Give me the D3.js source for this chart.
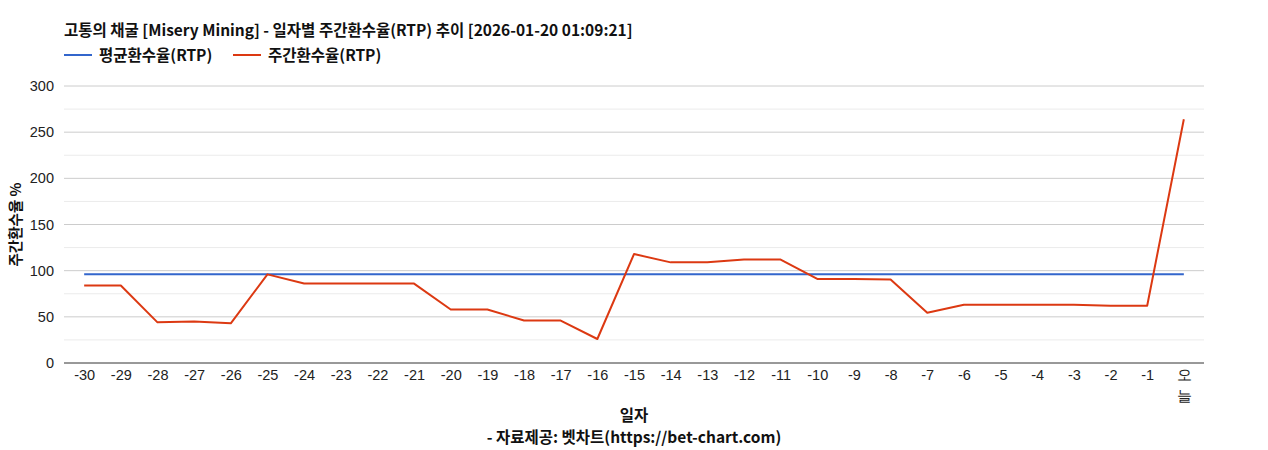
<!DOCTYPE html>
<html>
<head>
<meta charset="utf-8">
<script src="https://cdn.jsdelivr.net/npm/d3@7"></script>
<style>
  body { margin: 0; background: #fff; }
  text { font-family: "Liberation Sans", Arial, sans-serif; }
  .kr { font-family: "Noto Sans CJK KR", "Noto Sans", sans-serif; }
</style>
</head>
<body>
<div id="chart"></div>
<script>
// Data
const days = ["-30","-29","-28","-27","-26","-25","-24","-23","-22","-21","-20","-19","-18","-17","-16",
  "-15","-14","-13","-12","-11","-10","-9","-8","-7","-6","-5","-4","-3","-2","-1","오늘"];
const avgRtp = [96,96,96,96,96,96,96,96,96,96,96,96,96,96,96,96,96,96,96,96,96,96,96,96,96,96,96,96,96,96,96];
const weeklyRtp = [84,84,44,45,43,96,86,86,86,86,58,58,46,46,26,118,109,109,112,112,91,91,90.5,54.5,63,63,63,63,62,62,264];
const yTicks = [0,50,100,150,200,250,300];

const W = 1268, H = 450;
const margin = { top: 86, right: 64, bottom: 87, left: 64 };
const BLUE = "#3366cc", RED = "#dc3912";
const BOLD_SIZE = 15.5;

const svg = d3.select("#chart").append("svg")
  .attr("width", W).attr("height", H);

const x = d3.scalePoint()
  .domain(days)
  .range([margin.left, W - margin.right])
  .padding(0.55);

const y = d3.scaleLinear()
  .domain([0, 300])
  .range([H - margin.bottom, margin.top]);

// Gridlines (minor then major)
svg.append("g").selectAll("line")
  .data(d3.range(25, 300, 50))
  .enter().append("line")
  .attr("x1", margin.left).attr("x2", W - margin.right)
  .attr("y1", d => y(d)).attr("y2", d => y(d))
  .attr("stroke", "#ebebeb").attr("stroke-width", 1);

svg.append("g").selectAll("line")
  .data(yTicks.filter(d => d > 0))
  .enter().append("line")
  .attr("x1", margin.left).attr("x2", W - margin.right)
  .attr("y1", d => y(d)).attr("y2", d => y(d))
  .attr("stroke", "#cccccc").attr("stroke-width", 1);

// Y axis labels
const yAxis = svg.append("g")
  .attr("transform", "translate(" + margin.left + ",0)")
  .call(d3.axisLeft(y).tickValues(yTicks).tickSize(0).tickPadding(10));
yAxis.select(".domain").remove();
yAxis.selectAll("text").attr("font-size", 14.5).attr("fill", "#222")
  .style("font-family", "'Liberation Sans', Arial, sans-serif");

// X axis
const xAxis = svg.append("g")
  .attr("transform", "translate(0," + y(0) + ")")
  .call(d3.axisBottom(x).tickSize(0).tickPadding(7));
xAxis.select(".domain").attr("stroke", "#333").attr("d", "M" + margin.left + ",0H" + (W - margin.right));
xAxis.selectAll("text").attr("font-size", 14.5).attr("fill", "#222")
  .style("font-family", "'Liberation Sans', Arial, sans-serif")
  .each(function(d) {
    if (d === "오늘") {
      const t = d3.select(this).text(null).attr("class", "kr");
      t.append("tspan").attr("x", 0).attr("dy", "0.71em").text("오");
      t.append("tspan").attr("x", 0).attr("dy", "1.45em").text("늘");
      t.attr("dy", null);
    }
  });

// Lines
const line = d3.line()
  .x((d, i) => x(days[i]))
  .y(d => y(d));

svg.append("path").datum(avgRtp)
  .attr("fill", "none").attr("stroke", BLUE).attr("stroke-width", 2)
  .attr("d", line);

svg.append("path").datum(weeklyRtp)
  .attr("fill", "none").attr("stroke", RED).attr("stroke-width", 2)
  .attr("stroke-linejoin", "round")
  .attr("d", line);

// Title
svg.append("text")
  .attr("class", "kr")
  .attr("x", 64).attr("y", 36)
  .attr("font-size", BOLD_SIZE).attr("font-weight", "bold").attr("fill", "#111")
  .text("고통의 채굴 [Misery Mining] - 일자별 주간환수율(RTP) 추이 [2026-01-20 01:09:21]");

// Legend
const legendItems = [
  { name: "평균환수율(RTP)", color: BLUE, x: 64 },
  { name: "주간환수율(RTP)", color: RED, x: 233 }
];
const legend = svg.append("g");
legendItems.forEach(item => {
  legend.append("line")
    .attr("x1", item.x).attr("x2", item.x + 28)
    .attr("y1", 55).attr("y2", 55)
    .attr("stroke", item.color).attr("stroke-width", 2);
  legend.append("text")
    .attr("class", "kr")
    .attr("x", item.x + 35).attr("y", 60.5)
    .attr("font-size", BOLD_SIZE).attr("font-weight", "bold").attr("fill", "#111")
    .text(item.name);
});

// Axis titles
svg.append("text")
  .attr("class", "kr")
  .attr("transform", "translate(21," + ((margin.top + y(0)) / 2) + ") rotate(-90)")
  .attr("text-anchor", "middle")
  .attr("font-size", 14.5).attr("font-weight", "bold").attr("fill", "#111")
  .text("주간환수율 %");

svg.append("text")
  .attr("class", "kr")
  .attr("x", 634).attr("y", 421)
  .attr("text-anchor", "middle")
  .attr("font-size", BOLD_SIZE).attr("font-weight", "bold").attr("fill", "#111")
  .text("일자");

svg.append("text")
  .attr("class", "kr")
  .attr("x", 634).attr("y", 443)
  .attr("text-anchor", "middle")
  .attr("font-size", BOLD_SIZE).attr("font-weight", "bold").attr("fill", "#111")
  .text("- 자료제공: 벳차트(https://bet-chart.com)");
</script>
</body>
</html>
